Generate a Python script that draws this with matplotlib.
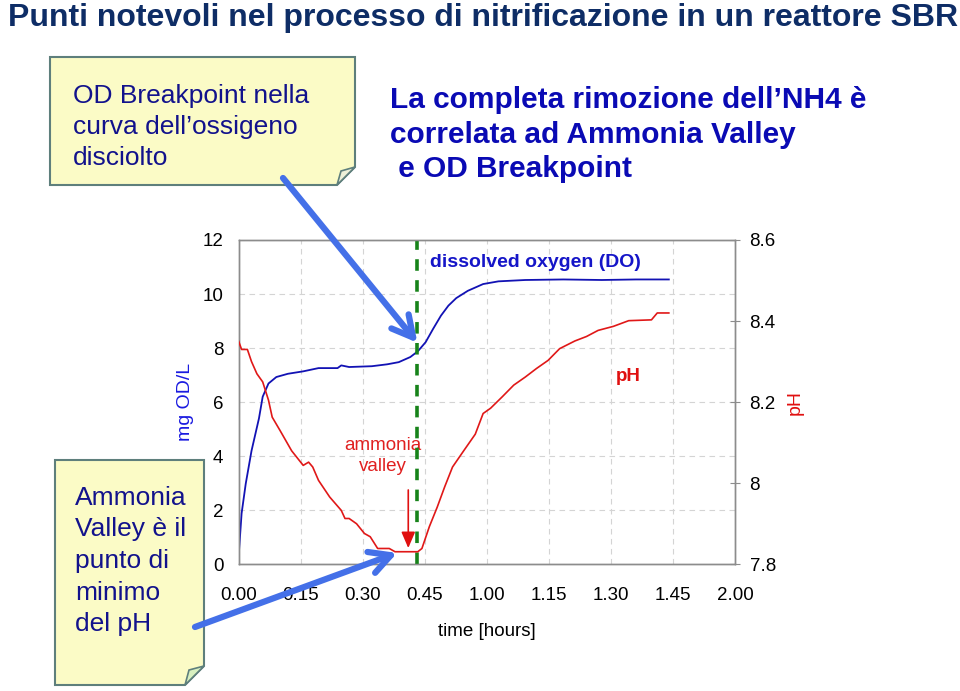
import matplotlib
matplotlib.use("Agg")
import matplotlib.pyplot as plt
from matplotlib.patches import Polygon
import numpy as np

plt.rcParams['font.family'] = ['Liberation Sans', 'DejaVu Sans']

# ---------------- data ----------------
title = "Punti notevoli nel processo di nitrificazione in un reattore SBR"
header_lines = ["La completa rimozione dell\u2019NH4 \u00e8",
                "correlata ad Ammonia Valley",
                " e OD Breakpoint"]
note1_lines = ["OD Breakpoint nella", "curva dell\u2019ossigeno", "disciolto"]
note2_lines = ["Ammonia", "Valley \u00e8 il", "punto di", "minimo", "del pH"]

x_ticks_min = [0, 15, 30, 45, 60, 75, 90, 105, 120]
x_tick_labels = ["0.00", "0.15", "0.30", "0.45", "1.00", "1.15", "1.30", "1.45", "2.00"]
y_left_ticks = [0, 2, 4, 6, 8, 10, 12]
y_right_ticks = [7.8, 8.0, 8.2, 8.4, 8.6]

# dissolved oxygen (mg/L) vs time (minutes)
do_t = [0, 0.7, 1.7, 3.1, 4.9, 5.8, 7.2, 9.1, 11.9, 15.6, 19.3, 23.9, 24.8, 26.7,
        32.2, 35.9, 38.7, 41.5, 43.3, 45.2, 47.0, 48.9, 50.7, 52.6, 55.4, 59.1,
        62.8, 69.3, 78.5, 87.8, 96.0, 104.0]
do_v = [0.34, 1.88, 2.98, 4.2, 5.4, 6.2, 6.69, 6.93, 7.05, 7.14, 7.26, 7.26, 7.36, 7.3,
        7.33, 7.4, 7.48, 7.67, 7.88, 8.22, 8.71, 9.2, 9.57, 9.85, 10.12, 10.37,
        10.47, 10.52, 10.54, 10.52, 10.54, 10.54]

# pH vs time (minutes)
ph_t = [0, 0.7, 2.1, 3.1, 4.4, 5.8, 7.2, 8.1, 10.0, 12.8, 15.6, 16.9, 17.9, 19.3,
        22.0, 24.8, 25.7, 26.7, 28.5, 30.4, 31.8, 33.6, 36.4, 37.8, 43.3, 44.3,
        46.1, 48.0, 49.8, 51.7, 54.4, 57.2, 59.1, 60.9, 63.7, 66.5, 69.3, 72.0,
        74.8, 77.6, 81.3, 84.1, 86.9, 90.6, 94.3, 99.8, 101.2, 104.0]
ph_v = [8.35, 8.33, 8.33, 8.30, 8.27, 8.25, 8.205, 8.163, 8.13, 8.08, 8.044, 8.052, 8.04, 8.007,
        7.966, 7.933, 7.913, 7.913, 7.90, 7.876, 7.868, 7.839, 7.839, 7.831, 7.831, 7.839,
        7.893, 7.941, 7.991, 8.04, 8.08, 8.121, 8.172, 8.185, 8.213, 8.242, 8.262, 8.283,
        8.303, 8.332, 8.351, 8.362, 8.377, 8.387, 8.401, 8.403, 8.42, 8.42]

breakpoint_t = 43.0
valley_t = 41.0

# ---------------- figure ----------------
W, H = 960, 691
fig = plt.figure(figsize=(W / 100, H / 100), dpi=100)
fig.patch.set_facecolor('white')

def P(x, y):
    return (x / W, 1 - y / H)

ax_l, ax_r, ax_t, ax_b = 238.7, 735.0, 240.0, 564.3
ax = fig.add_axes([ax_l / W, 1 - ax_b / H, (ax_r - ax_l) / W, (ax_b - ax_t) / H])
ax2 = ax.twinx()

ax.set_xlim(0, 120)
ax.set_ylim(0, 12)
ax2.set_ylim(7.8, 8.6)

ax.set_xticks(x_ticks_min)
ax.set_xticklabels(x_tick_labels)
ax.set_yticks(y_left_ticks)
ax.set_yticklabels([str(v) for v in y_left_ticks])
ax.grid(True, color='#d4d4d4', linestyle=(0, (5, 4)), linewidth=0.8)
ax.set_axisbelow(True)

for sp in ax.spines.values():
    sp.set_color('#8c8c8c'); sp.set_linewidth(1.0)
for sp in ax2.spines.values():
    sp.set_color('#8c8c8c'); sp.set_linewidth(1.0)

ax.tick_params(axis='both', length=0, labelsize=13.5, colors='black')
ax.tick_params(axis='x', pad=16)
ax.tick_params(axis='y', pad=11)
ax2.set_yticks(y_right_ticks)
ax2.set_yticklabels(['%g' % v for v in y_right_ticks])
ax2.tick_params(axis='y', direction='inout', length=7, color='#8c8c8c',
                labelsize=13.5, pad=7)

ax.set_xlabel("time [hours]", fontsize=13.5, labelpad=14)
ax.set_ylabel("mg OD/L", fontsize=14, color='#1a1ae0', labelpad=6)
ax2.set_ylabel("pH", fontsize=14, color='#e01010', labelpad=8)

# lines
ax.plot(do_t, do_v, color='#1212b4', lw=1.3, zorder=3)
ax2.plot(ph_t, ph_v, color='#e01818', lw=1.2, zorder=3)
ax.axvline(breakpoint_t, color='#17831a', lw=2.6, linestyle=(0, (3.2, 2.6)), zorder=4)

# in-chart labels
ax.text(71.8, 11.18, "dissolved oxygen (DO)", color='#1515c8', fontsize=14,
        fontweight='bold', ha='center', va='center')
ax.text(94.2, 6.94, "pH", color='#e01010', fontsize=13.5, fontweight='bold',
        ha='center', va='center')
ax.text(34.8, 4.0, "ammonia\nvalley", color='#e02020', fontsize=13.5,
        ha='center', va='center', linespacing=1.3)
ax.annotate('', xy=(valley_t, 0.6), xytext=(valley_t, 2.75),
            arrowprops=dict(arrowstyle='-|>,head_length=0.7,head_width=0.3',
                            color='#e01010', lw=1.2, mutation_scale=14,
                            shrinkA=0, shrinkB=0))

# ---------------- slide decorations ----------------
fig.text(*P(8, 18), title, fontsize=23, fontweight='bold', color='#0e2d66',
         ha='left', va='center')

for line, y in zip(header_lines, [100, 135, 169]):
    fig.text(*P(390, y), line, fontsize=21.5, fontweight='bold', color='#0a0ab4',
             ha='left', va='center')

note_face = '#fbfbc6'
note_edge = '#5e7f7c'
n1 = Polygon([P(50, 57), P(355, 57), P(355, 167), P(337, 185), P(50, 185)],
             closed=True, transform=fig.transFigure, facecolor=note_face,
             edgecolor=note_edge, lw=1.5, zorder=-2)
f1 = Polygon([P(337, 185), P(341, 171), P(355, 167)], closed=True,
             transform=fig.transFigure, facecolor='#eef0d8', edgecolor=note_edge,
             lw=1.2, zorder=-1)
fig.add_artist(n1); fig.add_artist(f1)
for line, y in zip(note1_lines, [96, 127, 158]):
    fig.text(*P(73, y), line, fontsize=19, color='#12128c', ha='left', va='center')

n2 = Polygon([P(55, 460), P(204, 460), P(204, 666), P(185, 685), P(55, 685)],
             closed=True, transform=fig.transFigure, facecolor=note_face,
             edgecolor=note_edge, lw=1.5, zorder=-2)
f2 = Polygon([P(185, 685), P(189, 670), P(204, 666)], closed=True,
             transform=fig.transFigure, facecolor='#d8f0c0', edgecolor=note_edge,
             lw=1.2, zorder=-1)
fig.add_artist(n2); fig.add_artist(f2)
for line, y in zip(note2_lines, [498, 529, 561, 593, 624]):
    fig.text(*P(75, y), line, fontsize=19, color='#12128c', ha='left', va='center')

# big blue arrows
arrow_kw = dict(arrowstyle='->,head_length=0.75,head_width=0.4', mutation_scale=20,
                lw=4.5, color='#4470e8', shrinkA=0, shrinkB=0)
ax2.annotate('', xy=(43.2, 8.2), xycoords=ax.transData,
             xytext=P(283, 178), textcoords='figure fraction',
             arrowprops=arrow_kw, annotation_clip=False, zorder=10)
ax2.annotate('', xy=(38.3, 0.42), xycoords=ax.transData,
             xytext=P(195, 627), textcoords='figure fraction',
             arrowprops=arrow_kw, annotation_clip=False, zorder=10)

fig.savefig("out.png", dpi=100, facecolor='white')
